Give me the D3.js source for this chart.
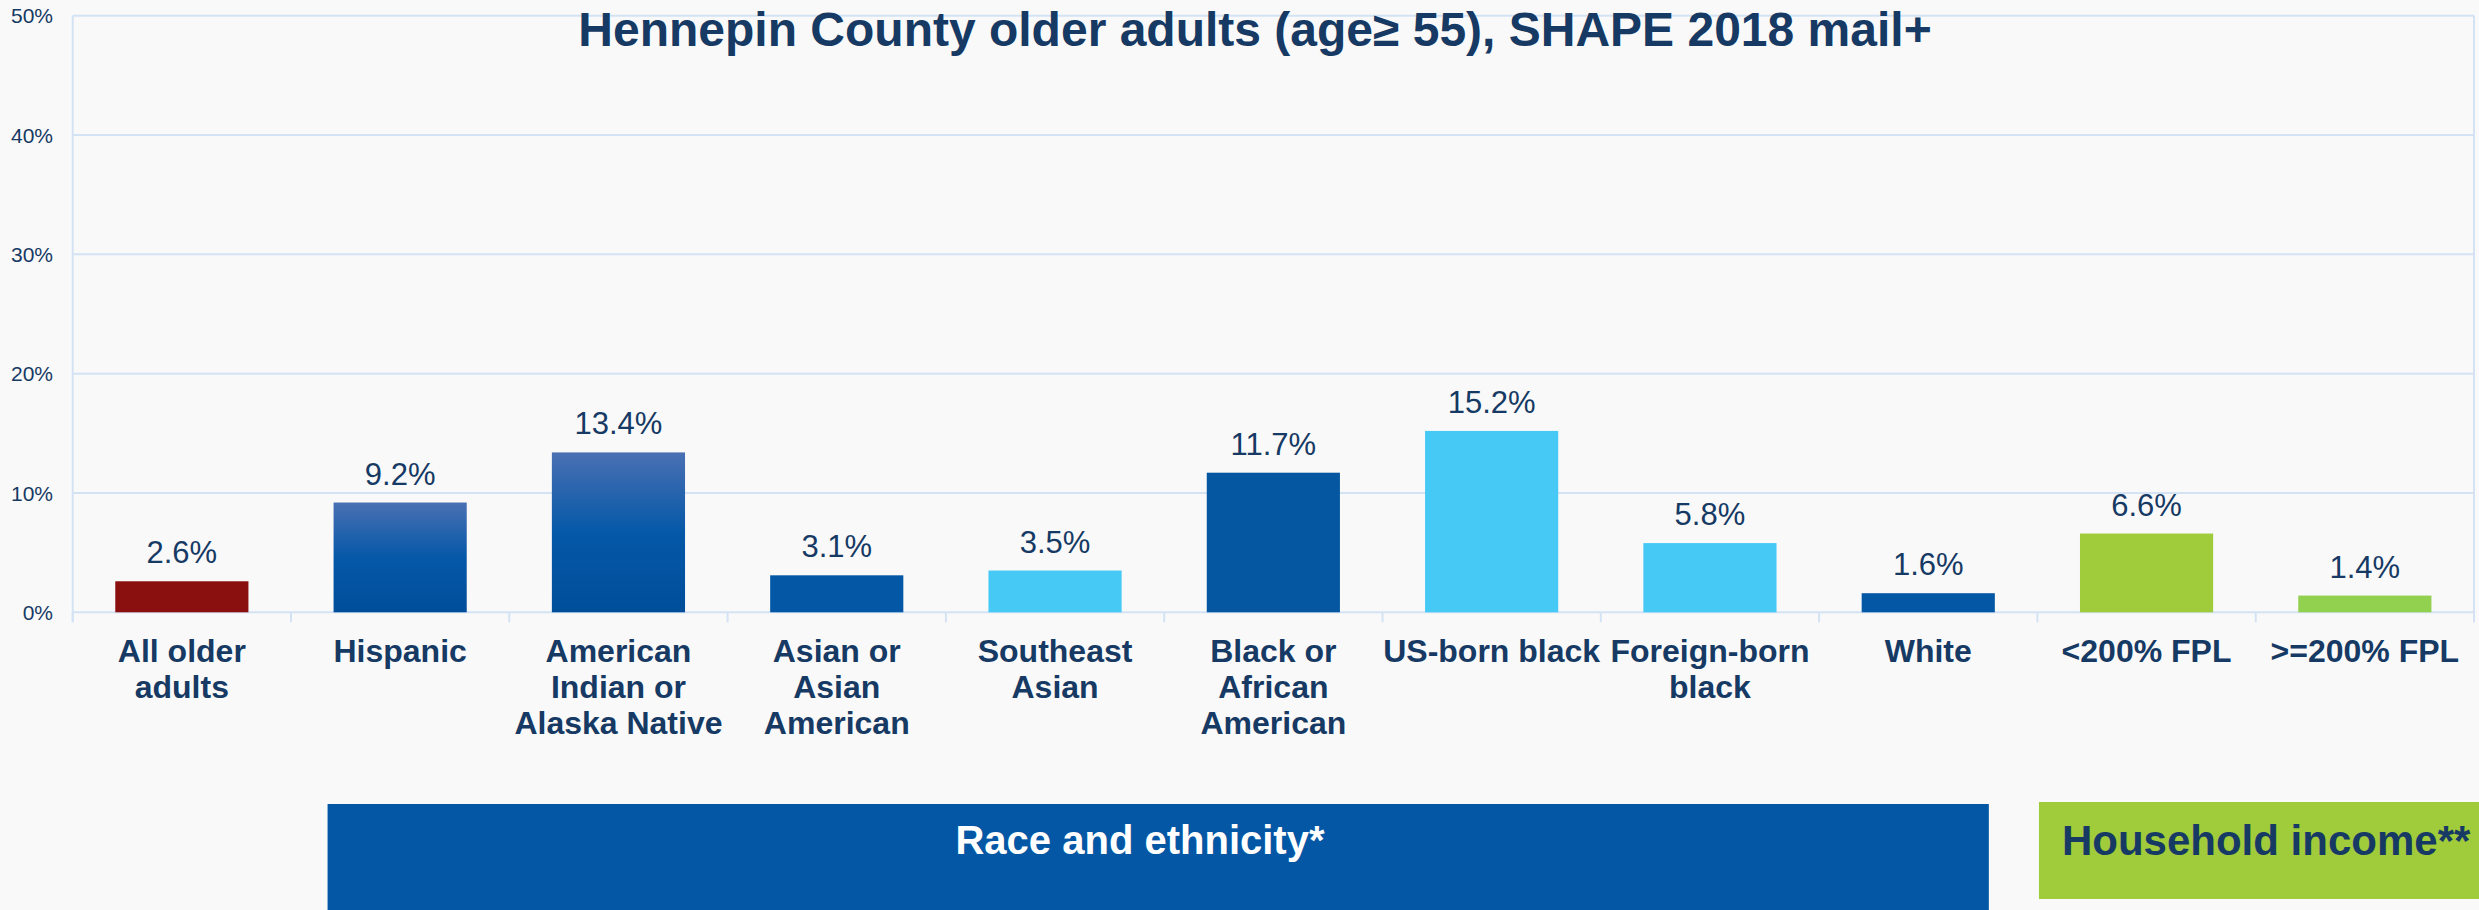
<!DOCTYPE html>
<html>
<head>
<meta charset="utf-8">
<script src="https://cdn.jsdelivr.net/npm/d3@7"></script>
<style>
  html, body { margin: 0; padding: 0; background: #f9f9f9; }
  svg { display: block; font-family: "Liberation Sans", Arial, sans-serif; }
</style>
</head>
<body>
<div class="chart"></div>
<script>
//Chart data
var categories = [
    "All older\nadults", "Hispanic", "American\nIndian or\nAlaska Native", "Asian or\nAsian\nAmerican",
    "Southeast\nAsian", "Black or\nAfrican\nAmerican", "US-born black", "Foreign-born\nblack",
    "White", "<200% FPL", ">=200% FPL"
];
var values = [2.6, 9.2, 13.4, 3.1, 3.5, 11.7, 15.2, 5.8, 1.6, 6.6, 1.4];
var barColors = [
    "#8a0f0f", "url(#blueFade)", "url(#blueFade)", "#0457a4", "#46c9f5", "#0457a0",
    "#46c9f5", "#46c9f5", "#0457a4", "#a0cb3b", "#92d050"
];
var yTicks = [0, 10, 20, 30, 40, 50];
var titleText = "Hennepin County older adults (age\u2265 55), SHAPE 2018 mail+";
var groupLabels = ["Race and ethnicity*", "Household income**"];

var width = 2479, height = 910;
var plotLeft = 72.7, plotRight = 2474, plotTop = 15.7, plotBottom = 612.3;
var gridColor = "#d3e3f4";
var textColor = "#163a64";

var svg = d3.select(".chart")
    .append("svg")
    .attr("width", width)
    .attr("height", height);

svg.append("rect")
    .attr("width", width)
    .attr("height", height)
    .attr("fill", "#f9f9f9");

//Gradient used by the Hispanic and American Indian bars
var grad = svg.append("defs").append("linearGradient")
    .attr("id", "blueFade")
    .attr("x1", 0).attr("y1", 0).attr("x2", 0).attr("y2", 1);
grad.append("stop").attr("offset", "0%").attr("stop-color", "#4a70b3");
grad.append("stop").attr("offset", "50%").attr("stop-color", "#0558a8");
grad.append("stop").attr("offset", "100%").attr("stop-color", "#004e9a");

//Scales
var x = d3.scaleBand()
    .domain(categories)
    .range([plotLeft, plotRight])
    .paddingInner(0.39)
    .paddingOuter(0.195);

var y = d3.scaleLinear()
    .domain([0, 50])
    .range([plotBottom, plotTop]);

//Gridlines and y labels
svg.selectAll(".grid")
    .data(yTicks)
    .enter().append("line")
    .attr("x1", plotLeft).attr("x2", plotRight)
    .attr("y1", function (d) { return y(d); })
    .attr("y2", function (d) { return y(d); })
    .attr("stroke", gridColor)
    .attr("stroke-width", 2);

svg.selectAll(".ylab")
    .data(yTicks)
    .enter().append("text")
    .attr("x", 53)
    .attr("y", function (d) { return y(d); })
    .attr("dy", "0.36em")
    .attr("text-anchor", "end")
    .attr("font-size", 21)
    .attr("fill", textColor)
    .text(function (d) { return d + "%"; });

//Plot border lines on the sides
[plotLeft, plotRight].forEach(function (px) {
    svg.append("line")
        .attr("x1", px).attr("x2", px)
        .attr("y1", plotTop).attr("y2", plotBottom + 10)
        .attr("stroke", gridColor)
        .attr("stroke-width", 2);
});

//Ticks between the categories
var step = x.step();
svg.selectAll(".tick")
    .data(d3.range(categories.length + 1))
    .enter().append("line")
    .attr("x1", function (i) { return plotLeft + i * step; })
    .attr("x2", function (i) { return plotLeft + i * step; })
    .attr("y1", plotBottom).attr("y2", plotBottom + 10)
    .attr("stroke", gridColor)
    .attr("stroke-width", 2);

//Title
svg.append("text")
    .attr("x", 1255)
    .attr("y", 45.7)
    .attr("text-anchor", "middle")
    .attr("font-size", 48)
    .attr("font-weight", "bold")
    .attr("fill", textColor)
    .text(titleText);

//Bars
svg.selectAll(".bar")
    .data(values)
    .enter().append("rect")
    .attr("x", function (d, i) { return x(categories[i]); })
    .attr("y", function (d) { return y(d); })
    .attr("width", x.bandwidth())
    .attr("height", function (d) { return plotBottom - y(d); })
    .attr("fill", function (d, i) { return barColors[i]; });

//Value labels
svg.selectAll(".val")
    .data(values)
    .enter().append("text")
    .attr("x", function (d, i) { return x(categories[i]) + x.bandwidth() / 2; })
    .attr("y", function (d) { return y(d) - 18; })
    .attr("text-anchor", "middle")
    .attr("font-size", 31)
    .attr("fill", textColor)
    .text(function (d) { return d.toFixed(1) + "%"; });

//Category labels, split over lines
var catText = svg.selectAll(".cat")
    .data(categories)
    .enter().append("text")
    .attr("text-anchor", "middle")
    .attr("font-size", 32)
    .attr("font-weight", "bold")
    .attr("fill", textColor);

catText.each(function (d) {
    var cx = x(d) + x.bandwidth() / 2;
    d3.select(this).selectAll("tspan")
        .data(d.split("\n"))
        .enter().append("tspan")
        .attr("x", cx)
        .attr("y", function (l, j) { return 661.7 + j * 36; })
        .text(function (l) { return l; });
});

//Group boxes under the axis
var bw = x.bandwidth();
var raceLeft = x(categories[1]) - 6;
var raceRight = x(categories[8]) + bw - 6;
svg.append("rect")
    .attr("x", raceLeft).attr("y", 804)
    .attr("width", raceRight - raceLeft).attr("height", height - 804)
    .attr("fill", "#0457a4");
svg.append("text")
    .attr("x", 1140)
    .attr("y", 854)
    .attr("text-anchor", "middle")
    .attr("font-size", 40)
    .attr("font-weight", "bold")
    .attr("fill", "#ffffff")
    .text(groupLabels[0]);

var incLeft = x(categories[9]) - 41;
svg.append("rect")
    .attr("x", incLeft).attr("y", 802)
    .attr("width", width - incLeft).attr("height", 97)
    .attr("fill", "#a0cb3b");
svg.append("text")
    .attr("x", incLeft + 23)
    .attr("y", 855)
    .attr("font-size", 42)
    .attr("font-weight", "bold")
    .attr("fill", textColor)
    .text(groupLabels[1]);
</script>
</body>
</html>
